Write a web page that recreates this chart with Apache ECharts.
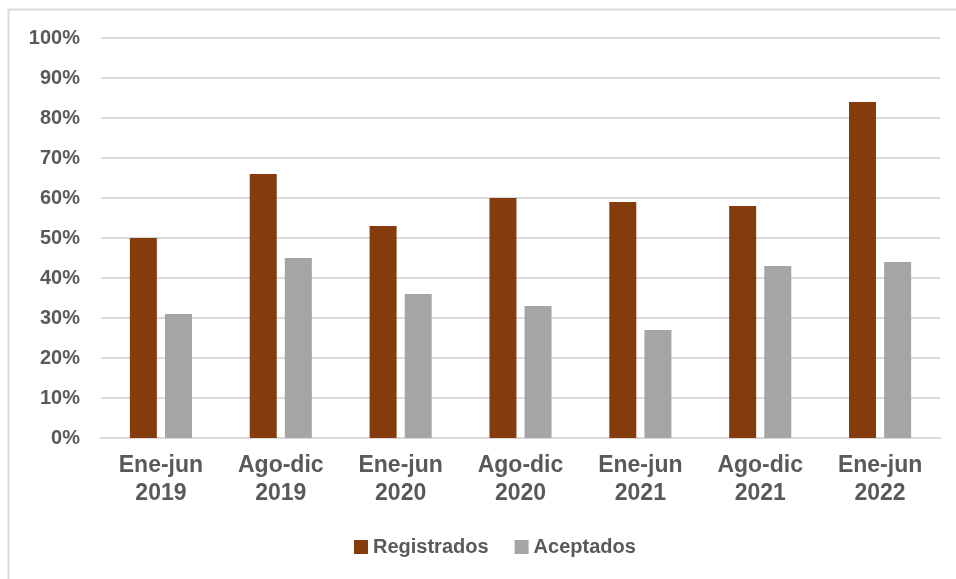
<!DOCTYPE html>
<html><head><meta charset="utf-8">
<script src="https://cdn.jsdelivr.net/npm/echarts@6/dist/echarts.min.js"></script>
<style>html,body{margin:0;padding:0;background:#fff}#c{width:956px;height:579px}</style>
</head><body><div id="c"></div>
<script>
var categories = ['Ene-jun\n2019','Ago-dic\n2019','Ene-jun\n2020','Ago-dic\n2020','Ene-jun\n2021','Ago-dic\n2021','Ene-jun\n2022'];
var registrados = [50,66,53,60,59,58,84];
var aceptados = [31,45,36,33,27,43,44];
var seriesNames = ['Registrados','Aceptados'];

var chart = echarts.init(document.getElementById('c'), null, {renderer:'canvas'});
var font = 'Liberation Sans, Arial, sans-serif';
chart.setOption({
  animation:false,
  backgroundColor:'#fff',
  graphic:[{type:'rect',shape:{x:8.5,y:9.5,width:1200,height:1200},style:{fill:'none',stroke:'#d9d9d9',lineWidth:2},silent:true}],
  grid:{left:101,right:16,top:38,bottom:141,containLabel:false},
  legend:{
    top:532,left:349,itemWidth:14,itemHeight:14,itemGap:26,icon:'rect',
    textStyle:{color:'#595959',fontSize:20,fontWeight:'bold',fontFamily:font},
    data:seriesNames
  },
  xAxis:{type:'category',data:categories,
    axisLine:{lineStyle:{color:'#d9d9d9',width:2}},axisTick:{show:false},
    axisLabel:{color:'#595959',fontSize:23,fontWeight:'bold',fontFamily:font,lineHeight:28,margin:14}},
  yAxis:{type:'value',min:0,max:100,interval:10,
    axisLabel:{formatter:'{value}%',color:'#595959',fontSize:20,fontWeight:'bold',fontFamily:font,margin:21},
    axisLine:{show:false},axisTick:{show:false},
    splitLine:{lineStyle:{color:'#d9d9d9',width:2}}},
  series:[
    {name:seriesNames[0],type:'bar',data:registrados,barWidth:27,barGap:'30%',itemStyle:{color:'#843C0C'}},
    {name:seriesNames[1],type:'bar',data:aceptados,barWidth:27,itemStyle:{color:'#A5A5A5'}}
  ]
});
</script></body></html>
